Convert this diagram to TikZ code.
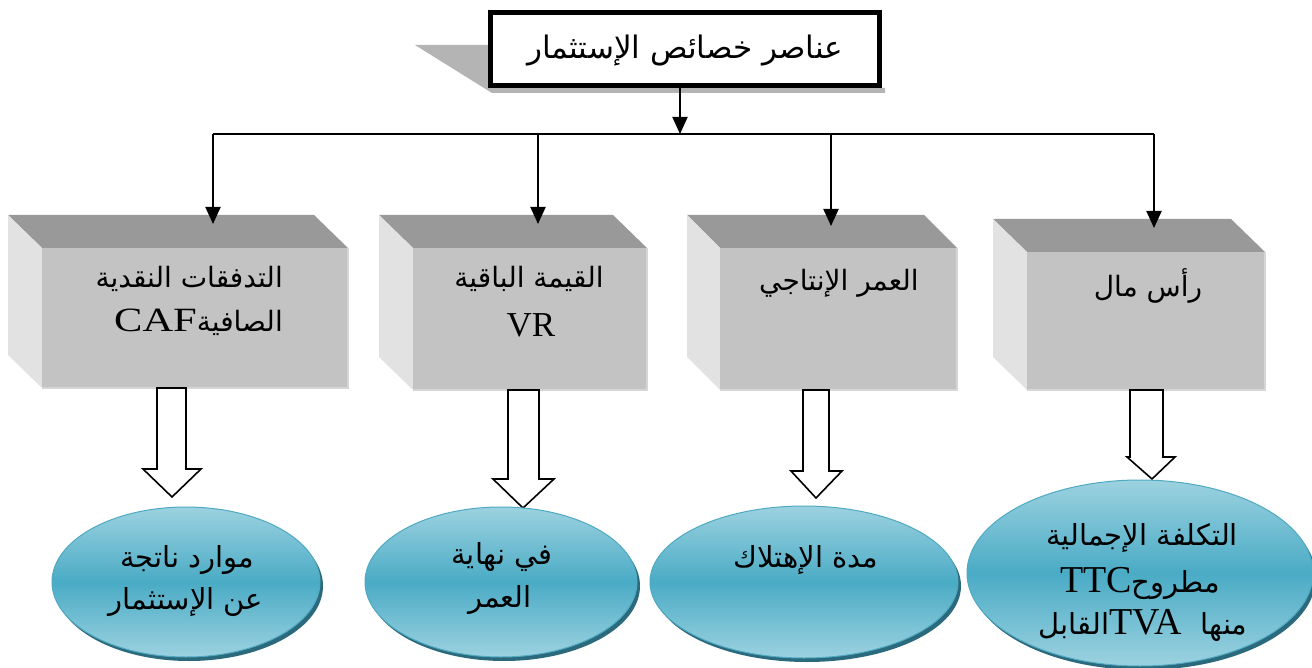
\documentclass[tikz,border=0pt]{standalone}
\usepackage{fontspec}
\newfontfamily\arabicfont[Script=Arabic]{DejaVu Sans}
\newfontfamily\latinfont{Liberation Serif}
\TeXXeTstate=1
\usetikzlibrary{arrows.meta,shapes.geometric}
\definecolor{cTop}{HTML}{999999}
\definecolor{cLeft}{HTML}{E2E2E2}
\definecolor{cFront}{HTML}{C3C3C3}
\definecolor{cEdge}{HTML}{D6D6D6}
\definecolor{cShadowBox}{HTML}{B4B4B4}
\definecolor{tealLight}{HTML}{9CD2E0}
\definecolor{tealMid}{HTML}{4AABC5}
\definecolor{tealLine}{HTML}{4FA9C2}
\definecolor{tealShadow}{HTML}{2B6A7C}
\newcommand\lt[2][34]{\beginL{\latinfont\fontsize{#1}{#1}\selectfont #2}\endL}
\newcommand\drawcube[6]{%
  \fill[cTop] (#1,#2) -- ({#5-(#3-#1)},#2) -- (#5,#4) -- (#3,#4) -- cycle;
  \fill[cLeft] (#1,#2) -- (#3,#4) -- (#3,#6) -- (#1,{#6-(#4-#2)}) -- cycle;
  \fill[cFront] (#3,#4) rectangle (#5,#6);
  \draw[cEdge, line width=2.5pt] (#5,#4) -- (#5,#6) -- (#3,#6);
}
\tikzset{
  artext/.style={font=\arabicfont\fontsize{28}{30}\selectfont, inner sep=0pt, anchor=base},
  elltext/.style={artext, font=\arabicfont\fontsize{29}{30}\selectfont},
  bus/.style={line width=2pt, black},
  downarrow/.style={bus, -{Triangle[length=17pt,width=15pt]}},
  hollow/.style={draw=black, line width=1.6pt, fill=white, line join=miter},
  ell/.style={ellipse, draw=tealLine, line width=1pt, top color=tealLight, bottom color=tealLight, middle color=tealMid, inner sep=0pt},
  ellshadow/.style={ellipse, fill=tealShadow, inner sep=0pt},
}
\begin{document}
\begin{tikzpicture}[x=1pt,y=-1pt]
\useasboundingbox (0,0) rectangle (1312,668);
% title shadow and box
\fill[cShadowBox] (415,45) -- (490,45) -- (490,88) -- (885,88) -- (885,93) -- (492,93) -- cycle;
\node[draw, line width=5pt, fill=white, minimum width=389pt, minimum height=73pt, inner sep=0pt] (title) at (685,49) {};
\node[artext, font=\arabicfont\fontsize{31}{33}\selectfont] (titletext) at (685,59) {\beginR عناصر خصائص الإستثمار\endR};
% bus
\coordinate (jmid) at (680,134);
\coordinate (j1) at (213,134);
\coordinate (j2) at (538,134);
\coordinate (j3) at (831,134);
\coordinate (j4) at (1154,134);
\coordinate (b1in) at (213,224);
\coordinate (b2in) at (538,224);
\coordinate (b3in) at (831,226);
\coordinate (b4in) at (1154,228);
\draw[downarrow] (title.south -| jmid) -- (jmid);
\draw[bus] (j1) -- (j4);
% cubes
\drawcube{8}{215}{42}{248}{348}{388}
\drawcube{379}{215}{413}{248}{647}{390}
\drawcube{687}{215}{720}{248}{957}{390}
\drawcube{993}{219}{1027}{252}{1265}{390}
\draw[downarrow] (j1) -- (b1in);
\draw[downarrow] (j2) -- (b2in);
\draw[downarrow] (j3) -- (b3in);
\draw[downarrow] (j4) -- (b4in);
% cube texts
\node[artext, anchor=base east] (b1a) at (283,288) {\beginR التدفقات النقدية\endR};
\node[artext, anchor=base east] (b1b) at (283,332) {\beginR الصافية\beginL\scalebox{1.25}[1]{\latinfont\fontsize{34}{34}\selectfont CAF}\endL\endR};
\node[artext] (b2a) at (529,288) {\beginR القيمة الباقية\endR};
\node[artext, font=\latinfont\fontsize{35}{35}\selectfont] (b2b) at (531,337) {VR};
\node[artext] (b3a) at (839,291) {\beginR العمر الإنتاجي\endR};
\node[artext] (b4a) at (1148,297) {\beginR رأس مال\endR};
% hollow arrows
\draw[hollow] (157,388) -- (186,388) -- (186,469) -- (201,469) -- (172,497) -- (143,469) -- (157,469) -- cycle;
\draw[hollow] (508,390) -- (539,390) -- (539,479) -- (554,479) -- (523,508) -- (493,479) -- (508,479) -- cycle;
\draw[hollow] (803,390) -- (829,390) -- (829,471) -- (842,471) -- (816,498) -- (791,471) -- (803,471) -- cycle;
\draw[hollow] (1130,390) -- (1163,390) -- (1163,457) -- (1175,457) -- (1152,479) -- (1127,457) -- (1130,457) -- cycle;
% ellipses
\node[ellshadow, minimum width=268pt, minimum height=150pt] at (189,586) {};
\node[ell, minimum width=268pt, minimum height=150pt] (e1) at (186,582) {};
\node[ellshadow, minimum width=272pt, minimum height=150pt] at (504,586) {};
\node[ell, minimum width=272pt, minimum height=150pt] (e2) at (501,582) {};
\node[ellshadow, minimum width=308pt, minimum height=152pt] at (807,586) {};
\node[ell, minimum width=308pt, minimum height=152pt] (e3) at (804,582) {};
\node[ellshadow, minimum width=346pt, minimum height=186pt] at (1143,577) {};
\node[ell, minimum width=346pt, minimum height=186pt] (e4) at (1140,573) {};
% ellipse texts
\node[elltext] (e1a) at (187,567) {\beginR موارد ناتجة\endR};
\node[elltext] (e1b) at (186,609) {\beginR عن الإستثمار\endR};
\node[elltext] (e2a) at (502,564) {\beginR في نهاية\endR};
\node[elltext] (e2b) at (500,607) {\beginR العمر\endR};
\node[elltext] (e3a) at (806,567) {\beginR مدة الإهتلاك\endR};
\node[elltext] (e4a) at (1142,545) {\beginR التكلفة الإجمالية\endR};
\node[elltext] (e4b) at (1140,592) {\beginR مطروح\lt[38]{TTC}\endR};
\node[elltext] (e4c) at (1143,634) {\beginR منها\ \ \lt[38]{TVA}القابل\endR};
\end{tikzpicture}
\end{document}
